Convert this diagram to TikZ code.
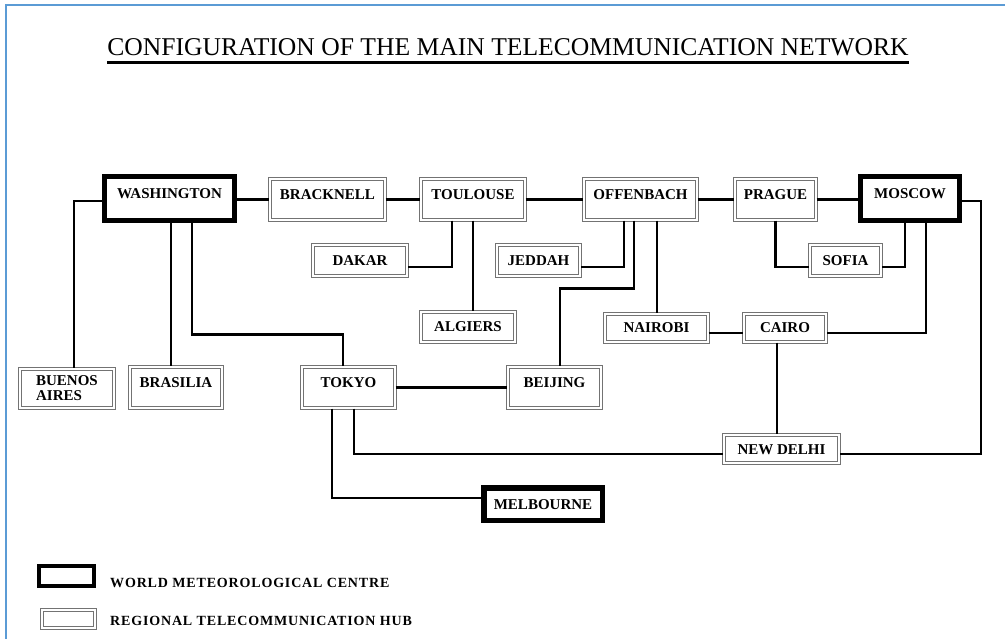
\documentclass[tikz,border=0pt]{standalone}
\usepackage{fontspec}
\setmainfont{Liberation Serif}
\definecolor{frameblue}{RGB}{91,155,213}
\begin{document}
\begin{tikzpicture}[x=1pt,y=-1pt,
  label/.style={font=\bfseries\fontsize{15}{15}\selectfont, inner sep=0pt,
    text height=10pt, text depth=0pt, fill=white},
  wmc/.style={label, draw=black, line width=5pt},
  hub/.style={label, draw=black!55, double=white, double distance=1.5pt, line width=1.3pt},
  tall/.style={text depth=10pt},
  link/.style={line width=2.8pt}]
  % 画布
  \useasboundingbox[fill=white] (0,0) rectangle (1005,639);
  \draw[frameblue, line width=2pt] (6,639) -- (6,5) -- (1005,5);
  % 标题
  \node[anchor=base, inner sep=0pt, text depth=0pt, font=\fontsize{25.6}{26}\selectfont] (title) at (508,56)
    {CONFIGURATION OF THE MAIN TELECOMMUNICATION NETWORK};
  \draw[line width=2.8pt] ([yshift=-6pt]title.south west) -- ([yshift=-6pt]title.south east);
  % 第一行
  \node[wmc, tall, minimum width=130pt, minimum height=44pt] (wash) at (169.5,198.5) {WASHINGTON};
  \node[hub, tall, minimum width=115pt, minimum height=41pt] (brack) at (327.5,199.5) {BRACKNELL};
  \node[hub, tall, minimum width=104pt, minimum height=41pt] (toul) at (473,199.5) {TOULOUSE};
  \node[hub, tall, minimum width=113pt, minimum height=41pt] (offen) at (640.5,199.5) {OFFENBACH};
  \node[hub, tall, minimum width=81pt, minimum height=41pt] (prague) at (775.5,199.5) {PRAGUE};
  \node[wmc, tall, minimum width=99pt, minimum height=44pt] (moscow) at (910,198.5) {MOSCOW};
  % 第二行
  \node[hub, minimum width=94pt, minimum height=31pt] (dakar) at (360,260.5) {DAKAR};
  \node[hub, minimum width=83pt, minimum height=31pt] (jeddah) at (538.5,260.5) {JEDDAH};
  \node[hub, minimum width=71pt, minimum height=31pt] (sofia) at (845.5,260.5) {SOFIA};
  % 第三行
  \node[hub, minimum width=94pt, minimum height=30pt] (algiers) at (468,327) {ALGIERS};
  \node[hub, minimum width=103pt, minimum height=28pt] (nairobi) at (656.5,328) {NAIROBI};
  \node[hub, minimum width=82pt, minimum height=28pt] (cairo) at (785,328) {CAIRO};
  % 第四行
  \node[hub, text height={}, text depth={}, align=left, minimum width=94pt, minimum height=39pt] (buenos) at (67,388.5) {BUENOS\\AIRES};
  \node[hub, tall, minimum width=92pt, minimum height=41pt] (brasilia) at (176,387.5) {BRASILIA};
  \node[hub, tall, minimum width=93pt, minimum height=41pt] (tokyo) at (348.5,387.5) {TOKYO};
  \node[hub, tall, minimum width=93pt, minimum height=41pt] (beijing) at (554.5,387.5) {BEIJING};
  % 底部
  \node[hub, minimum width=115pt, minimum height=28pt] (delhi) at (781.5,449) {NEW DELHI};
  \node[wmc, line width=5.5pt, minimum width=118.5pt, minimum height=32.5pt] (melb) at (543,504) {MELBOURNE};
  % 连线
  \draw[link] ([yshift=-2.5pt]wash.west) -| ([xshift=7pt]buenos.north);
  \draw[link] ([xshift=1.5pt]wash.south) -- ([xshift=1.5pt]wash.south |- brasilia.north);
  \draw[link] ([xshift=22.5pt]wash.south) |- ([xshift=-5.5pt,yshift=32pt]tokyo.north) -- ([xshift=-5.5pt]tokyo.north);
  \draw[link] (wash.east |- brack.west) -- (brack.west);
  \draw[link] (brack.east) -- (toul.west);
  \draw[link] (toul.east) -- (offen.west);
  \draw[link] (offen.east) -- (prague.west);
  \draw[link] (prague.east) -- (prague.east -| moscow.west);
  \draw[link] ([xshift=-21pt]toul.south) |- ([yshift=-6.5pt]dakar.east);
  \draw[link] (toul.south) -- (toul.south |- algiers.north);
  \draw[link] ([xshift=-16.5pt]offen.south) |- ([yshift=-6.5pt]jeddah.east);
  \draw[link] ([xshift=-6.5pt]offen.south) |- ([xshift=5.5pt,yshift=78pt]beijing.north) -- ([xshift=5.5pt]beijing.north);
  \draw[link] ([xshift=16.5pt]offen.south) -- ([xshift=16.5pt]offen.south |- nairobi.north);
  \draw[link] ([yshift=-5pt]nairobi.east) -- ([yshift=-5pt]nairobi.east -| cairo.west);
  \draw[link] (prague.south) |- ([yshift=-6.5pt]sofia.west);
  \draw[link] ([xshift=-5pt]moscow.south) |- ([yshift=-6.5pt]sofia.east);
  \draw[link] ([xshift=16pt]moscow.south) |- ([yshift=-5pt]cairo.east);
  \draw[link] ([yshift=-2.5pt]moscow.east) -- ++(19,0) |- ([yshift=-5pt]delhi.east);
  \draw[link] ([xshift=-8pt]cairo.south) -- ([xshift=-8pt]cairo.south |- delhi.north);
  \draw[link] (tokyo.east) -- (beijing.west);
  \draw[link] ([xshift=5.5pt]tokyo.south) |- ([yshift=-5pt]delhi.west);
  \draw[link] ([xshift=-16.5pt]tokyo.south) |- ([yshift=6pt]melb.west);
  % 图例
  \node[wmc, line width=4pt, minimum width=55pt, minimum height=20pt] (keywmc) at (66.5,575.5) {};
  \node[hub, minimum width=53pt, minimum height=18pt] (keyhub) at (68.5,619) {};
  \node[label, fill=none, anchor=west, font=\bfseries\fontsize{14}{14}\selectfont\addfontfeature{LetterSpace=6}] (keywmctext) at (110,582) {WORLD METEOROLOGICAL CENTRE};
  \node[label, fill=none, anchor=west, font=\bfseries\fontsize{14}{14}\selectfont\addfontfeature{LetterSpace=6}] (keyhubtext) at (110,620.5) {REGIONAL TELECOMMUNICATION HUB};
\end{tikzpicture}
\end{document}
